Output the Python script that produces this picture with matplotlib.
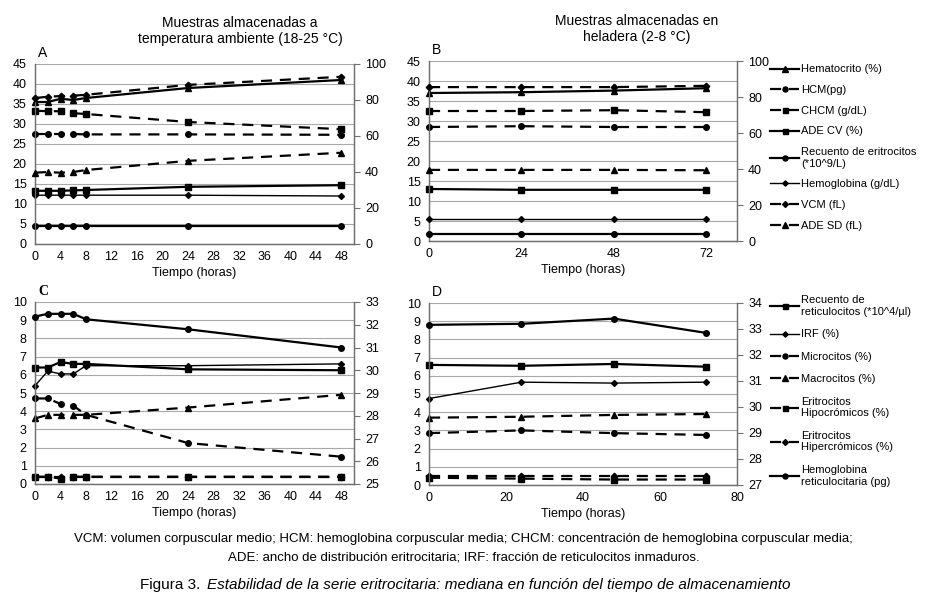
import matplotlib.pyplot as plt

plt.rcParams['font.family'] = ['Liberation Sans', 'DejaVu Sans']
plt.rcParams['font.size'] = 8.5

# tiempos de muestreo (horas)
horas_amb = [0, 2, 4, 6, 8, 24, 48]
horas_hel = [0, 24, 48, 72]

# A: temperatura ambiente, serie eritrocitaria
hto_a = [35.5, 35.5, 36.3, 36.0, 36.5, 39.0, 41.0]
hcm_a = [27.5, 27.5, 27.5, 27.5, 27.4, 27.4, 27.3]
chcm_a = [33.3, 33.2, 33.2, 32.7, 32.5, 30.5, 28.7]
adecv_a = [13.3, 13.3, 13.3, 13.4, 13.5, 14.3, 14.7]
rbc_a = [4.5, 4.5, 4.5, 4.5, 4.5, 4.5, 4.5]
hb_a = [12.2, 12.2, 12.2, 12.2, 12.2, 12.2, 12.0]
vcm_a = [81.1, 81.8, 82.2, 82.4, 82.9, 88.4, 92.9]      # eje derecho
adesd_a = [39.6, 40.0, 39.6, 40.0, 41.1, 46.2, 50.7]    # eje derecho

# B: heladera, serie eritrocitaria
hto_b = [37.0, 37.2, 37.6, 38.2]
hcm_b = [28.5, 28.7, 28.5, 28.5]
chcm_b = [32.5, 32.5, 32.7, 32.2]
adecv_b = [13.0, 12.8, 12.8, 12.8]
rbc_b = [4.0, 4.0, 4.0, 4.0]          # eje derecho
hb_b = [12.3, 12.3, 12.3, 12.3]       # eje derecho
vcm_b = [85.5, 85.5, 85.5, 86.2]      # eje derecho
adesd_b = [39.5, 39.5, 39.5, 39.3]    # eje derecho

# C: temperatura ambiente, reticulocitos
ret_c = [6.4, 6.4, 6.7, 6.6, 6.6, 6.3, 6.25]
irf_c = [5.4, 6.2, 6.05, 6.05, 6.5, 6.5, 6.6]
micro_c = [4.7, 4.7, 4.4, 4.3, 3.8, 2.25, 1.5]
macro_c = [3.6, 3.8, 3.8, 3.8, 3.8, 4.2, 4.9]
hipo_c = [0.4, 0.4, 0.3, 0.4, 0.4, 0.4, 0.4]
hiper_c = [0.4, 0.4, 0.4, 0.4, 0.4, 0.4, 0.4]
chr_c = [32.36, 32.48, 32.48, 32.48, 32.24, 31.8, 31.0]   # eje derecho

# D: heladera, reticulocitos
ret_d = [6.6, 6.55, 6.65, 6.5]
irf_d = [4.75, 5.65, 5.6, 5.65]
micro_d = [2.85, 3.0, 2.85, 2.75]
macro_d = [3.7, 3.75, 3.85, 3.9]
hipo_d = [0.4, 0.35, 0.3, 0.3]
hiper_d = [0.5, 0.5, 0.5, 0.5]
chr_d = [33.16, 33.2, 33.4, 32.85]   # eje derecho

labels_eri = ['Hematocrito (%)', 'HCM(pg)', 'CHCM (g/dL)', 'ADE CV (%)',
              'Recuento de eritrocitos\n(*10^9/L)', 'Hemoglobina (g/dL)',
              'VCM (fL)', 'ADE SD (fL)']
labels_ret = ['Recuento de\nreticulocitos (*10^4/µl)', 'IRF (%)', 'Microcitos (%)',
              'Macrocitos (%)', 'Eritrocitos\nHipocrómicos (%)',
              'Eritrocitos\nHipercrómicos (%)', 'Hemoglobina\nreticulocitaria (pg)']

DASH = (0, (5, 3.5))


def serie(ax, x, y, marker, dashed=False, lw=1.6, ms=4):
    ls = DASH if dashed else '-'
    return ax.plot(x, y, color='black', ls=ls, lw=lw, marker=marker, ms=ms,
                   clip_on=False, zorder=3)[0]


def ejes(ax, ax2, ylim, ystep, ylim2, ystep2, xlim, xticks, letra, serif=False):
    ax.set_xlim(*xlim)
    ax.set_xticks(xticks)
    ax.set_ylim(*ylim)
    ax.set_yticks(range(ylim[0], ylim[1] + 1, ystep))
    ax2.set_ylim(*ylim2)
    ax2.set_yticks(range(ylim2[0], ylim2[1] + 1, ystep2))
    ax.grid(axis='y', color='#a8a8a8', lw=0.8)
    ax.set_axisbelow(True)
    for a in (ax, ax2):
        a.spines['top'].set_visible(False)
        for s in ('left', 'right', 'bottom'):
            a.spines[s].set_color('#707070')
            a.spines[s].set_linewidth(0.9)
    ax.tick_params(axis='y', length=0, pad=6, labelsize=9)
    ax.tick_params(axis='x', length=0, pad=5, labelsize=9)
    ax2.tick_params(axis='y', length=4, color='#707070', pad=4, labelsize=9)
    ax.set_xlabel('Tiempo (horas)', fontsize=9, labelpad=3)
    if serif:
        ax.text(0.01, 1.02, letra, transform=ax.transAxes, fontsize=10, va='bottom',
                family=['Liberation Serif', 'DejaVu Serif'], weight='bold')
    else:
        ax.text(0.01, 1.02, letra, transform=ax.transAxes, fontsize=10, va='bottom')


fig = plt.figure(figsize=(9.27, 6.06), dpi=100)
W, H = 927, 606


def caja(x0, y0, x1, y1):
    return [x0 / W, 1 - y1 / H, (x1 - x0) / W, (y1 - y0) / H]


axA = fig.add_axes(caja(35, 64, 354, 244))
axB = fig.add_axes(caja(429, 61, 737, 241))
axC = fig.add_axes(caja(35, 302, 354, 484))
axD = fig.add_axes(caja(429, 303, 737, 485))
axA2, axB2, axC2, axD2 = axA.twinx(), axB.twinx(), axC.twinx(), axD.twinx()

# panel A
serie(axA, horas_amb, hto_a, '^', ms=4.5)
serie(axA, horas_amb, hcm_a, 'o', dashed=True)
serie(axA, horas_amb, chcm_a, 's', dashed=True)
serie(axA, horas_amb, adecv_a, 's')
serie(axA, horas_amb, rbc_a, 'o')
serie(axA, horas_amb, hb_a, 'D', lw=1.0, ms=3)
serie(axA2, horas_amb, vcm_a, 'D', dashed=True, ms=3.3)
serie(axA2, horas_amb, adesd_a, '^', dashed=True, ms=4.5)
ejes(axA, axA2, (0, 45), 5, (0, 100), 20, (0, 50), range(0, 49, 4), 'A')

# panel B
h = [serie(axB, horas_hel, hto_b, '^', ms=4.5),
     serie(axB, horas_hel, hcm_b, 'o', dashed=True),
     serie(axB, horas_hel, chcm_b, 's', dashed=True),
     serie(axB, horas_hel, adecv_b, 's'),
     serie(axB2, horas_hel, rbc_b, 'o'),
     serie(axB2, horas_hel, hb_b, 'D', lw=1.0, ms=3),
     serie(axB2, horas_hel, vcm_b, 'D', dashed=True, ms=3.3),
     serie(axB2, horas_hel, adesd_b, '^', dashed=True, ms=4.5)]
ejes(axB, axB2, (0, 45), 5, (0, 100), 20, (0, 80), [0, 24, 48, 72], 'B')
fig.legend(h, labels_eri, loc='upper left', bbox_to_anchor=(766 / W, 1 - 60 / H),
           frameon=False, fontsize=8, handlelength=2.6, handletextpad=0.15,
           labelspacing=0.96, borderaxespad=0, markerscale=0.9)

# panel C
serie(axC, horas_amb, ret_c, 's')
serie(axC, horas_amb, irf_c, 'D', lw=1.0, ms=3)
serie(axC, horas_amb, micro_c, 'o', dashed=True)
serie(axC, horas_amb, macro_c, '^', dashed=True, ms=4.5)
serie(axC, horas_amb, hipo_c, 's', dashed=True)
serie(axC, horas_amb, hiper_c, 'D', dashed=True, ms=3.3)
serie(axC2, horas_amb, chr_c, 'o')
ejes(axC, axC2, (0, 10), 1, (25, 33), 1, (0, 50), range(0, 49, 4), 'C', serif=True)

# panel D
h = [serie(axD, horas_hel, ret_d, 's'),
     serie(axD, horas_hel, irf_d, 'D', lw=1.0, ms=3),
     serie(axD, horas_hel, micro_d, 'o', dashed=True),
     serie(axD, horas_hel, macro_d, '^', dashed=True, ms=4.5),
     serie(axD, horas_hel, hipo_d, 's', dashed=True),
     serie(axD, horas_hel, hiper_d, 'D', dashed=True, ms=3.3),
     serie(axD2, horas_hel, chr_d, 'o')]
ejes(axD, axD2, (0, 10), 1, (27, 34), 1, (0, 80), range(0, 81, 20), 'D')
fig.legend(h, labels_ret, loc='upper left', bbox_to_anchor=(766 / W, 1 - 291 / H),
           frameon=False, fontsize=8, handlelength=2.6, handletextpad=0.15,
           labelspacing=1.12, borderaxespad=0, markerscale=0.9)

# titulos de columna
fig.text(240 / W, 1 - 31 / H, 'Muestras almacenadas a\ntemperatura ambiente (18-25 °C)',
         ha='center', va='center', fontsize=10, linespacing=1.25)
fig.text(637 / W, 1 - 29 / H, 'Muestras almacenadas en\nheladera (2-8 °C)',
         ha='center', va='center', fontsize=10, linespacing=1.2)

# pie de figura
narrow = ['Liberation Sans Narrow', 'Liberation Sans', 'DejaVu Sans']
fig.text(0.5, 1 - 539 / H, 'VCM: volumen corpuscular medio; HCM: hemoglobina corpuscular media; '
         'CHCM: concentración de hemoglobina corpuscular media;',
         ha='center', va='center', fontsize=9.5, family=narrow)
fig.text(0.5, 1 - 557 / H, 'ADE: ancho de distribución eritrocitaria; IRF: fracción de reticulocitos inmaduros.',
         ha='center', va='center', fontsize=9.5, family=narrow)
fig.text(140 / W, 1 - 585 / H, 'Figura 3.', ha='left', va='center', fontsize=11, family=narrow)
fig.text(207 / W, 1 - 585 / H, 'Estabilidad de la serie eritrocitaria: mediana en función del tiempo de almacenamiento',
         ha='left', va='center', fontsize=11, family=narrow, style='italic')

plt.savefig('out.png', dpi=100)
